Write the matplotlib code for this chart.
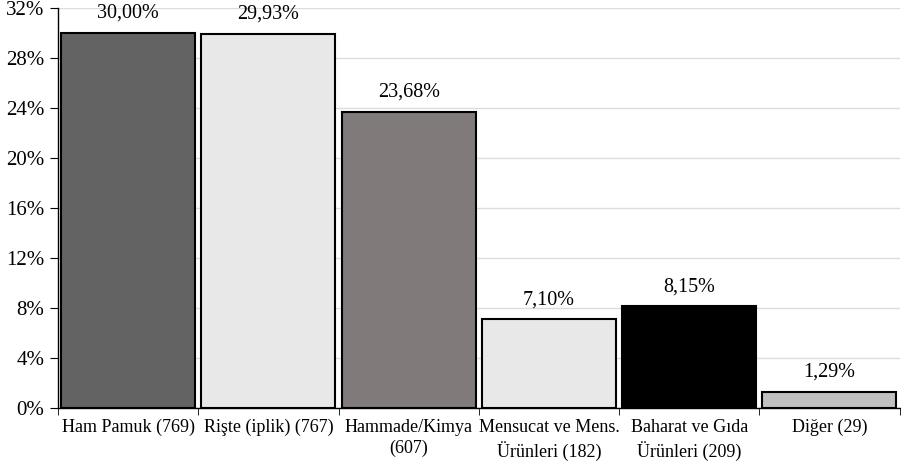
import matplotlib
matplotlib.use("Agg")
import matplotlib.pyplot as plt
import matplotlib.ticker as ticker

plt.rcParams['font.family'] = ['Liberation Serif', 'DejaVu Serif']

categories = ['Ham Pamuk (769)', 'Rişte (iplik) (767)', 'Hammade/Kimya\n(607)',
              'Mensucat ve Mens.\nÜrünleri (182)', 'Baharat ve Gıda\nÜrünleri (209)', 'Diğer (29)']
values = [30.00, 29.93, 23.68, 7.10, 8.15, 1.29]
colors = ['#636363', '#e8e8e8', '#807b7a', '#e8e8e8', '#000000', '#c0c0c0']

fig = plt.figure(figsize=(9.01, 4.70), dpi=100)
ax = fig.add_axes([0.0644, 0.132, 0.934, 0.851])

x = range(len(values))
ax.bar(x, values, width=0.955, color=colors, edgecolor='black', linewidth=1.5, zorder=3)
for i, v in enumerate(values):
    ax.text(i, v + 0.8, ('%.2f' % v).replace('.', ',') + '%', ha='center', va='bottom', fontsize=14.5)

ax.set_xlim(-0.5, len(values) - 0.5)
ax.set_ylim(0, 32)
ax.yaxis.set_major_locator(ticker.MultipleLocator(4))
ax.yaxis.set_major_formatter(ticker.FuncFormatter(lambda v, p: '%d%%' % v))
ax.set_xticks(list(x))
ax.set_xticklabels(categories, fontsize=13, linespacing=1.3)
ax.xaxis.set_minor_locator(ticker.FixedLocator([i - 0.5 for i in range(len(values) + 1)]))
ax.tick_params(axis='x', which='major', length=0, pad=8)
ax.tick_params(axis='x', which='minor', length=5, direction='out')
ax.tick_params(axis='y', length=6, labelsize=15, pad=4)
ax.grid(axis='y', color='#dcdcdc', linewidth=1, zorder=0)
for s in ['top', 'right']:
    ax.spines[s].set_visible(False)
ax.spines['left'].set_linewidth(1)
ax.spines['bottom'].set_linewidth(1)

fig.savefig('out.png', dpi=100)
